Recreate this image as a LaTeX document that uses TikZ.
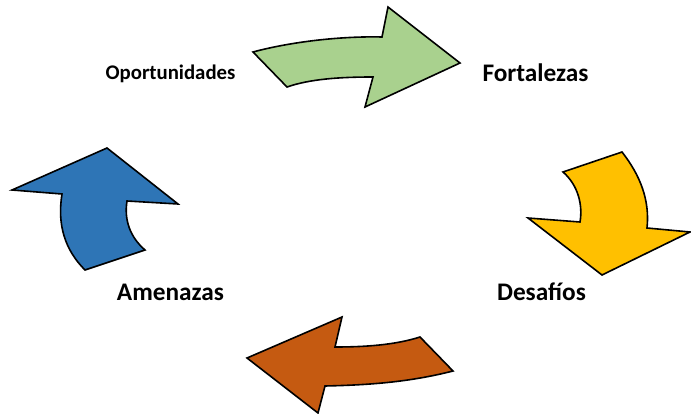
\documentclass[tikz,border=0pt]{standalone}
\usepackage{fontspec}
\setmainfont{Carlito}
\definecolor{cgreen}{HTML}{A9D18E}
\definecolor{cyellow}{HTML}{FFC000}
\definecolor{cbrown}{HTML}{C55A11}
\definecolor{cblue}{HTML}{2E75B6}
\tikzset{arrowshape/.style={draw=black, line width=1.6pt, line join=miter},
  lbl/.style={anchor=base, inner sep=0pt, font=\bfseries\fontsize{25.3}{28}\selectfont},
  lblsmall/.style={anchor=base, inner sep=0pt, font=\bfseries\fontsize{20.8}{24}\selectfont}}
\begin{document}
\begin{tikzpicture}[x=1pt,y=-1pt]
\useasboundingbox (0,0) rectangle (691,414);
% green
\filldraw[arrowshape, fill=cgreen] (253,52) .. controls (290,42) and (340,36) .. (382,37)
  -- (388,7) -- (460,63) -- (365,107) -- (373,77)
  .. controls (340,77) and (310,79) .. (287,87) -- cycle;
% yellow
\filldraw[arrowshape, fill=cyellow] (563,172) -- (622,152)
  .. controls (640,175) and (650,200) .. (647,228)
  -- (690,232) -- (602,275) -- (528,218) -- (580,222)
  .. controls (583,205) and (578,185) .. (563,172) -- cycle;
% brown
\filldraw[arrowshape, fill=cbrown] (420,337) -- (453,371)
  .. controls (410,382) and (370,385) .. (325,386)
  -- (318,413) -- (247,358) -- (342,317) -- (335,347)
  .. controls (365,347) and (395,345) .. (420,337) -- cycle;
% blue
\filldraw[arrowshape, fill=cblue] (85,270) -- (145,250)
  .. controls (130,237) and (124,220) .. (127,201)
  -- (178,204) -- (107,148) -- (12,190) -- (62,194)
  .. controls (57,225) and (65,250) .. (85,270) -- cycle;
\node[lblsmall] (op) at (170.5,80) {Oportunidades};
\node[lbl] (fo) at (535.5,82) {Fortalezas};
\node[lbl] (de) at (541.5,300) {Desafíos};
\node[lbl] (am) at (170.5,300) {Amenazas};
\end{tikzpicture}
\end{document}
